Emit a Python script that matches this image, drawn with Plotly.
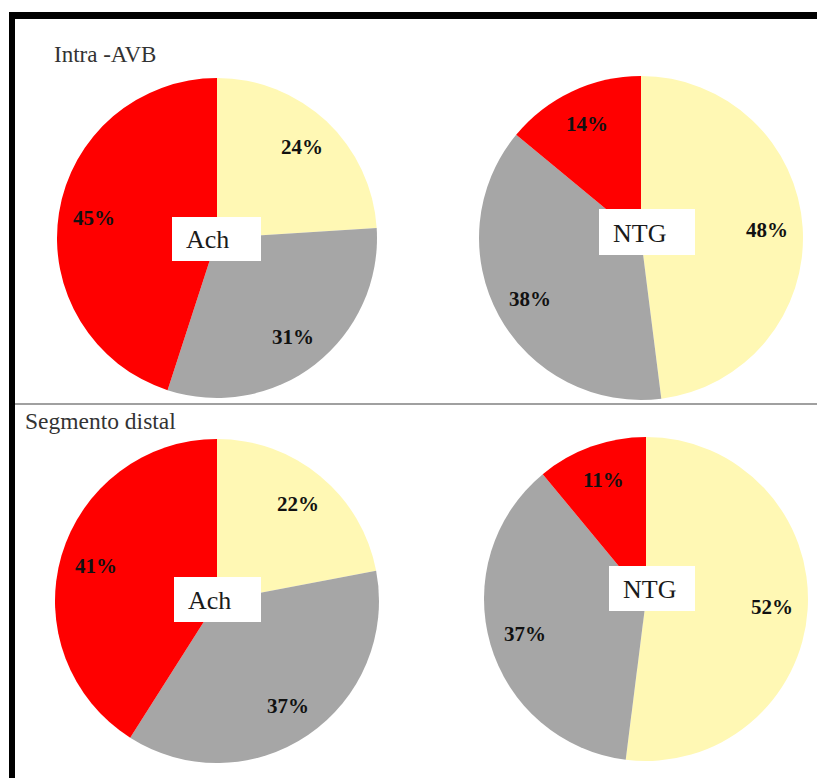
import math
import plotly.graph_objects as go

# Slice order (clockwise from 12 o'clock): yellow, grey, red
slice_names = ["A", "B", "C"]
colors = ["#FFF8B4", "#A6A6A6", "#FF0000"]

intra_ach = [24, 31, 45]
intra_ntg = [48, 38, 14]
distal_ach = [22, 37, 41]
distal_ntg = [52, 37, 11]

section_titles = ["Intra -AVB", "Segmento distal"]
drug_names = ["Ach", "NTG"]

W, H = 817, 778


def px(x):
    return x / W


def py(y):
    return 1 - y / H


# pie centre (px) and radius (px), plus the drug-name box (left, top, right, bottom)
panels = [
    dict(values=intra_ach, cx=217, cy=238, r=160, drug=drug_names[0], box=(172, 217, 261, 261)),
    dict(values=intra_ntg, cx=641, cy=238, r=162, drug=drug_names[1], box=(599, 209, 695, 255)),
    dict(values=distal_ach, cx=217, cy=601, r=162, drug=drug_names[0], box=(174, 577, 261, 622)),
    dict(values=distal_ntg, cx=646, cy=599, r=162, drug=drug_names[1], box=(609, 566, 695, 611)),
]

fig = go.Figure()
annotations = []
shapes = []

for p in panels:
    cx, cy, r = p["cx"], p["cy"], p["r"]
    fig.add_trace(go.Pie(
        labels=slice_names,
        values=p["values"],
        sort=False,
        direction="clockwise",
        rotation=0,
        marker=dict(colors=colors, line=dict(width=0)),
        textinfo="none",
        hoverinfo="label+percent",
        showlegend=False,
        domain=dict(x=[px(cx - r), px(cx + r)], y=[py(cy + r), py(cy - r)]),
    ))
    # percentage labels placed along each slice's mid-angle
    total = sum(p["values"])
    cum = 0.0
    for v in p["values"]:
        mid = 2 * math.pi * (cum + v / 2) / total
        cum += v
        k = 0.78
        lx = cx + k * r * math.sin(mid)
        ly = cy - k * r * math.cos(mid)
        annotations.append(dict(
            x=px(lx), y=py(ly), xref="paper", yref="paper",
            text=f"<b>{round(100 * v / total)}%</b>", showarrow=False,
            xanchor="center", yanchor="middle",
            font=dict(family="Liberation Serif", size=21, color="#111111"),
        ))
    # white label box with the drug name
    x0, y0, x1, y1 = p["box"]
    shapes.append(dict(
        type="rect", xref="paper", yref="paper", layer="above",
        x0=px(x0), x1=px(x1), y0=py(y1), y1=py(y0),
        fillcolor="white", line=dict(width=0),
    ))
    annotations.append(dict(
        x=px(x0 + 12), y=py((y0 + y1) / 2 + 1), xref="paper", yref="paper",
        text=p["drug"], showarrow=False,
        xanchor="left", yanchor="middle",
        font=dict(family="Liberation Serif", size=26, color="#1a1a1a"),
    ))

# section titles
annotations.append(dict(
    x=px(52), y=py(55), xref="paper", yref="paper", text=section_titles[0],
    showarrow=False, xanchor="left", yanchor="middle",
    font=dict(family="Liberation Serif", size=23, color="#333333"),
))
annotations.append(dict(
    x=px(23), y=py(421), xref="paper", yref="paper", text=section_titles[1],
    showarrow=False, xanchor="left", yanchor="middle",
    font=dict(family="Liberation Serif", size=23.5, color="#333333"),
))

shapes += [
    # black frame (left and top)
    dict(type="rect", xref="paper", yref="paper", x0=px(9), x1=px(15), y0=0, y1=py(12),
         fillcolor="black", line=dict(width=0)),
    dict(type="rect", xref="paper", yref="paper", x0=px(9), x1=1, y0=py(19), y1=py(12),
         fillcolor="black", line=dict(width=0)),
    # divider between the two sections
    dict(type="line", xref="paper", yref="paper", x0=px(15), x1=1, y0=py(404), y1=py(404),
         line=dict(color="#A0A0A0", width=2)),
]

fig.update_layout(
    width=W, height=H,
    margin=dict(l=0, r=0, t=0, b=0),
    paper_bgcolor="white", plot_bgcolor="white",
    annotations=annotations,
    shapes=shapes,
)

fig.write_html("out.html")
